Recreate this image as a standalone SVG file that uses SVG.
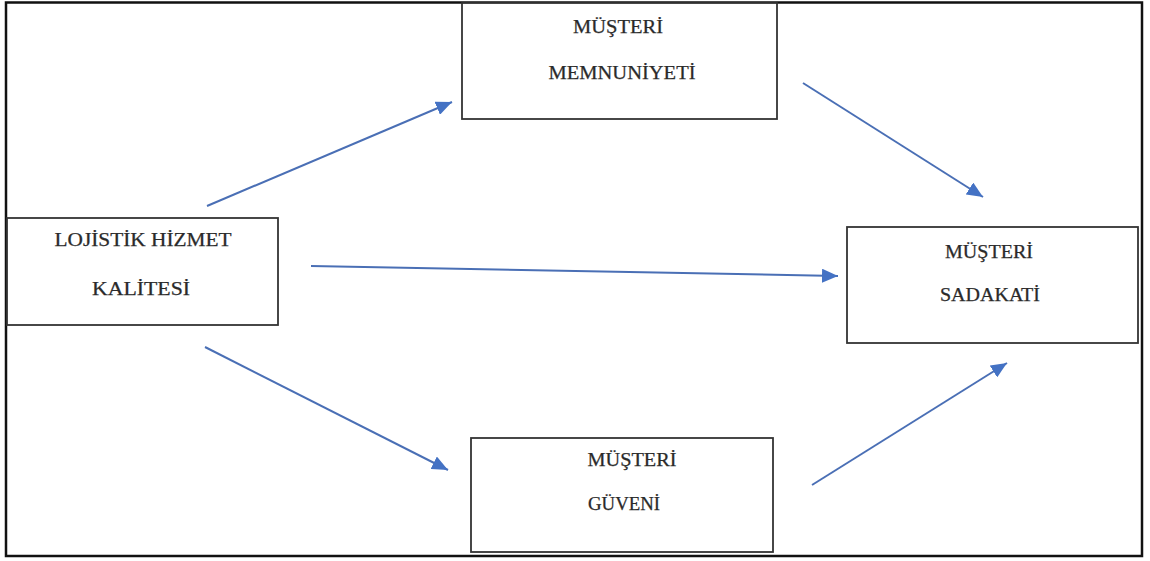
<svg xmlns="http://www.w3.org/2000/svg" width="1150" height="561" viewBox="0 0 1150 561">
<style>
.frame{fill:#fff;stroke:#111;stroke-width:2.5}
.box{fill:#fff;stroke:#333;stroke-width:1.8}
.lbl{font-family:"Liberation Serif","Times New Roman",serif;font-size:18px;fill:#2a2a2a;text-anchor:middle;stroke:#2a2a2a;stroke-width:0.25}
.arr{stroke:#4A6FB5;stroke-width:2;fill:none;marker-end:url(#ah)}
</style>
<defs>
<marker id="ah" markerWidth="8" markerHeight="7" refX="8" refY="3.5" orient="auto" markerUnits="strokeWidth">
<path d="M0,0 L8,3.5 L0,7 Z" fill="#4472C4"/>
</marker>
</defs>
<rect class="frame" x="6" y="2.5" width="1136" height="553.5"/>
<g id="n-memnuniyet">
<rect class="box" x="462" y="3" width="315" height="116"/>
<text class="lbl" x="618" y="33" textLength="90" lengthAdjust="spacingAndGlyphs">MÜŞTERİ</text>
<text class="lbl" x="622" y="79" textLength="147" lengthAdjust="spacingAndGlyphs">MEMNUNİYETİ</text>
</g>
<g id="n-lojistik">
<rect class="box" x="7" y="218" width="271" height="107"/>
<text class="lbl" x="143" y="246" textLength="177" lengthAdjust="spacingAndGlyphs">LOJİSTİK HİZMET</text>
<text class="lbl" x="141" y="295" textLength="98" lengthAdjust="spacingAndGlyphs">KALİTESİ</text>
</g>
<g id="n-sadakat">
<rect class="box" x="847" y="227" width="291" height="116"/>
<text class="lbl" x="989" y="258" textLength="88" lengthAdjust="spacingAndGlyphs">MÜŞTERİ</text>
<text class="lbl" x="990" y="301" textLength="100" lengthAdjust="spacingAndGlyphs">SADAKATİ</text>
</g>
<g id="n-guven">
<rect class="box" x="471" y="438" width="302" height="114"/>
<text class="lbl" x="632" y="466" textLength="89" lengthAdjust="spacingAndGlyphs">MÜŞTERİ</text>
<text class="lbl" x="624" y="510" textLength="72" lengthAdjust="spacingAndGlyphs">GÜVENİ</text>
</g>
<g id="connectors">
<line class="arr" x1="207" y1="206" x2="452" y2="102"/>
<line class="arr" x1="803" y1="83" x2="983" y2="197"/>
<line class="arr" x1="311" y1="266" x2="838" y2="276"/>
<line class="arr" x1="205" y1="347" x2="448" y2="470"/>
<line class="arr" x1="812" y1="485" x2="1007" y2="363"/>
</g>
</svg>
